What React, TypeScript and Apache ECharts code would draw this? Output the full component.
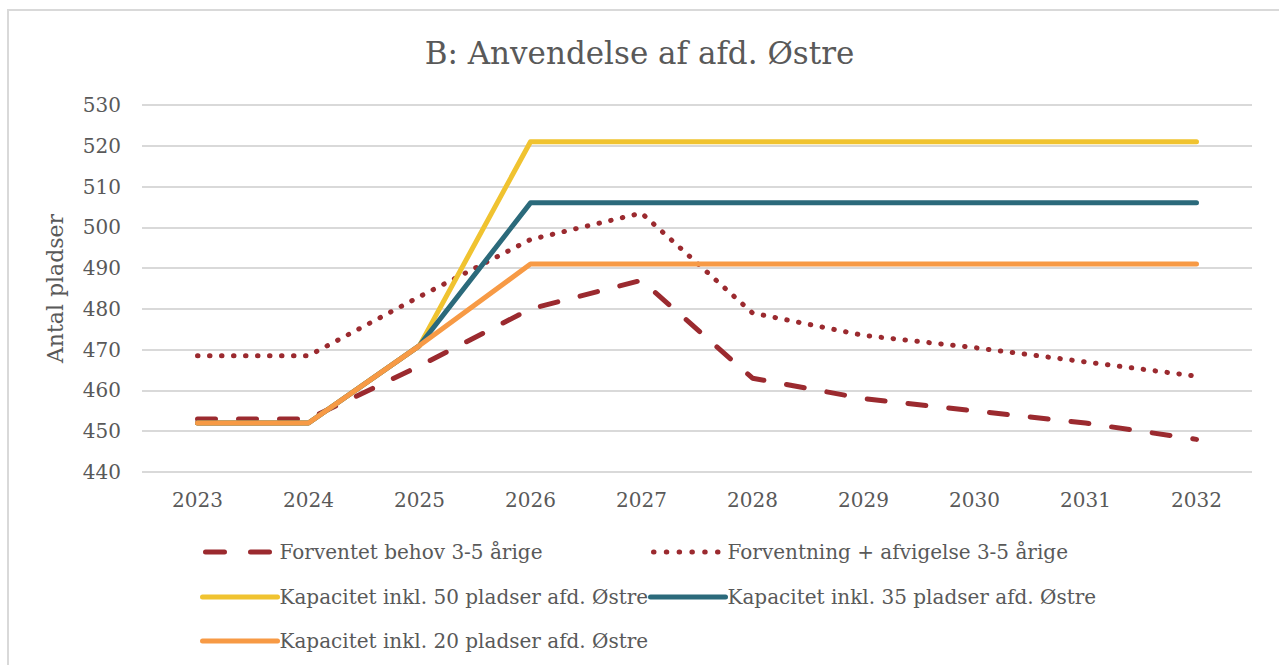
import React, { useEffect, useRef } from "react";
import * as echarts from "echarts";

const years = ["2023", "2024", "2025", "2026", "2027", "2028", "2029", "2030", "2031", "2032"];
const forventetBehov = [453, 453, 466, 480, 487, 463, 458, 455, 452, 448];
const forventningAfvigelse = [468.5, 468.5, 483, 497, 503.5, 479, 473.5, 470.5, 467, 463.5];
const kapacitet50 = [452, 452, 471, 521, 521, 521, 521, 521, 521, 521];
const kapacitet35 = [452, 452, 471, 506, 506, 506, 506, 506, 506, 506];
const kapacitet20 = [452, 452, 471, 491, 491, 491, 491, 491, 491, 491];

const names = [
  "Forventet behov 3-5 årige",
  "Forventning + afvigelse 3-5 årige",
  "Kapacitet inkl. 50 pladser afd. Østre",
  "Kapacitet inkl. 35 pladser afd. Østre",
  "Kapacitet inkl. 20 pladser afd. Østre",
];
const colors = ["#9B2A2F", "#9B2A2F", "#F0C330", "#2B6A7B", "#F79A45"];

const FONT = "'DejaVu Serif', serif";
const TXT = "#595959";

export default function App() {
  const ref = useRef<HTMLDivElement>(null);
  useEffect(() => {
    if (!ref.current) return;
    const chart = echarts.init(ref.current, null, { renderer: "svg" });
    const legendPos = [
      { left: 195, top: 537 },
      { left: 643, top: 537 },
      { left: 195, top: 582 },
      { left: 643, top: 582 },
      { left: 195, top: 626 },
    ];
    const styles: any[] = [
      { type: [18, 23], cap: "round" },
      { type: [0.5, 11.5], cap: "round" },
      { cap: "round", join: "round" },
      { cap: "round", join: "round" },
      { cap: "round", join: "round" },
    ];
    const legendStyles: any[] = [
      { type: [19, 26], cap: "round", dashOffset: -3 },
      { type: [0.5, 12.3], cap: "round", dashOffset: -3 },
      { cap: "round" },
      { cap: "round" },
      { cap: "round" },
    ];
    const mk = (i: number, data: number[], z: number) => ({
      name: names[i],
      type: "line",
      data,
      symbol: "none",
      z,
      lineStyle: { color: colors[i], width: 5, ...styles[i] },
      itemStyle: { color: colors[i] },
    });
    chart.setOption({
      animation: false,
      backgroundColor: "#ffffff",
      title: {
        text: "B: Anvendelse af afd. Østre",
        left: "center",
        top: 32,
        textStyle: { fontFamily: FONT, fontSize: 31, fontWeight: "normal", color: TXT },
      },
      grid: { left: 142, right: 27, top: 105, height: 367, containLabel: false },
      legend: legendPos.map((p, i) => ({
        data: [names[i]],
        left: p.left,
        top: p.top,
        itemWidth: 75,
        itemHeight: 20,
        itemGap: 0,
        selectedMode: false,
        itemStyle: { opacity: 0 },
        lineStyle: { color: colors[i], width: 5, ...legendStyles[i] },
        textStyle: { fontFamily: FONT, fontSize: 20, color: TXT, padding: [0, 0, 0, -3] },
      })),
      xAxis: {
        type: "category",
        data: years,
        boundaryGap: true,
        axisLine: { show: false },
        axisTick: { show: false },
        axisLabel: { fontFamily: FONT, fontSize: 20, color: TXT, margin: 18 },
      },
      yAxis: {
        type: "value",
        min: 440,
        max: 530,
        interval: 10,
        name: "Antal pladser",
        nameLocation: "middle",
        nameGap: 76,
        nameTextStyle: { fontFamily: FONT, fontSize: 22, color: TXT },
        axisLine: { show: false },
        axisTick: { show: false },
        axisLabel: { fontFamily: FONT, fontSize: 20, color: TXT, margin: 21 },
        splitLine: { lineStyle: { color: "#D9D9D9", width: 2 } },
      },
      graphic: [
        {
          type: "polyline",
          shape: { points: [[8, 665], [8, 10], [1279, 10]] },
          style: { stroke: "#D9D9D9", lineWidth: 2, fill: "none" },
          silent: true,
        },
      ],
      series: [
        mk(0, forventetBehov, 2),
        mk(1, forventningAfvigelse, 2),
        mk(2, kapacitet50, 3),
        mk(3, kapacitet35, 4),
        mk(4, kapacitet20, 5),
      ],
    });
    return () => chart.dispose();
  }, []);
  return (
    <div
      ref={ref}
      style={{ position: "fixed", left: 0, top: 0, width: 1279, height: 665 }}
    />
  );
}
